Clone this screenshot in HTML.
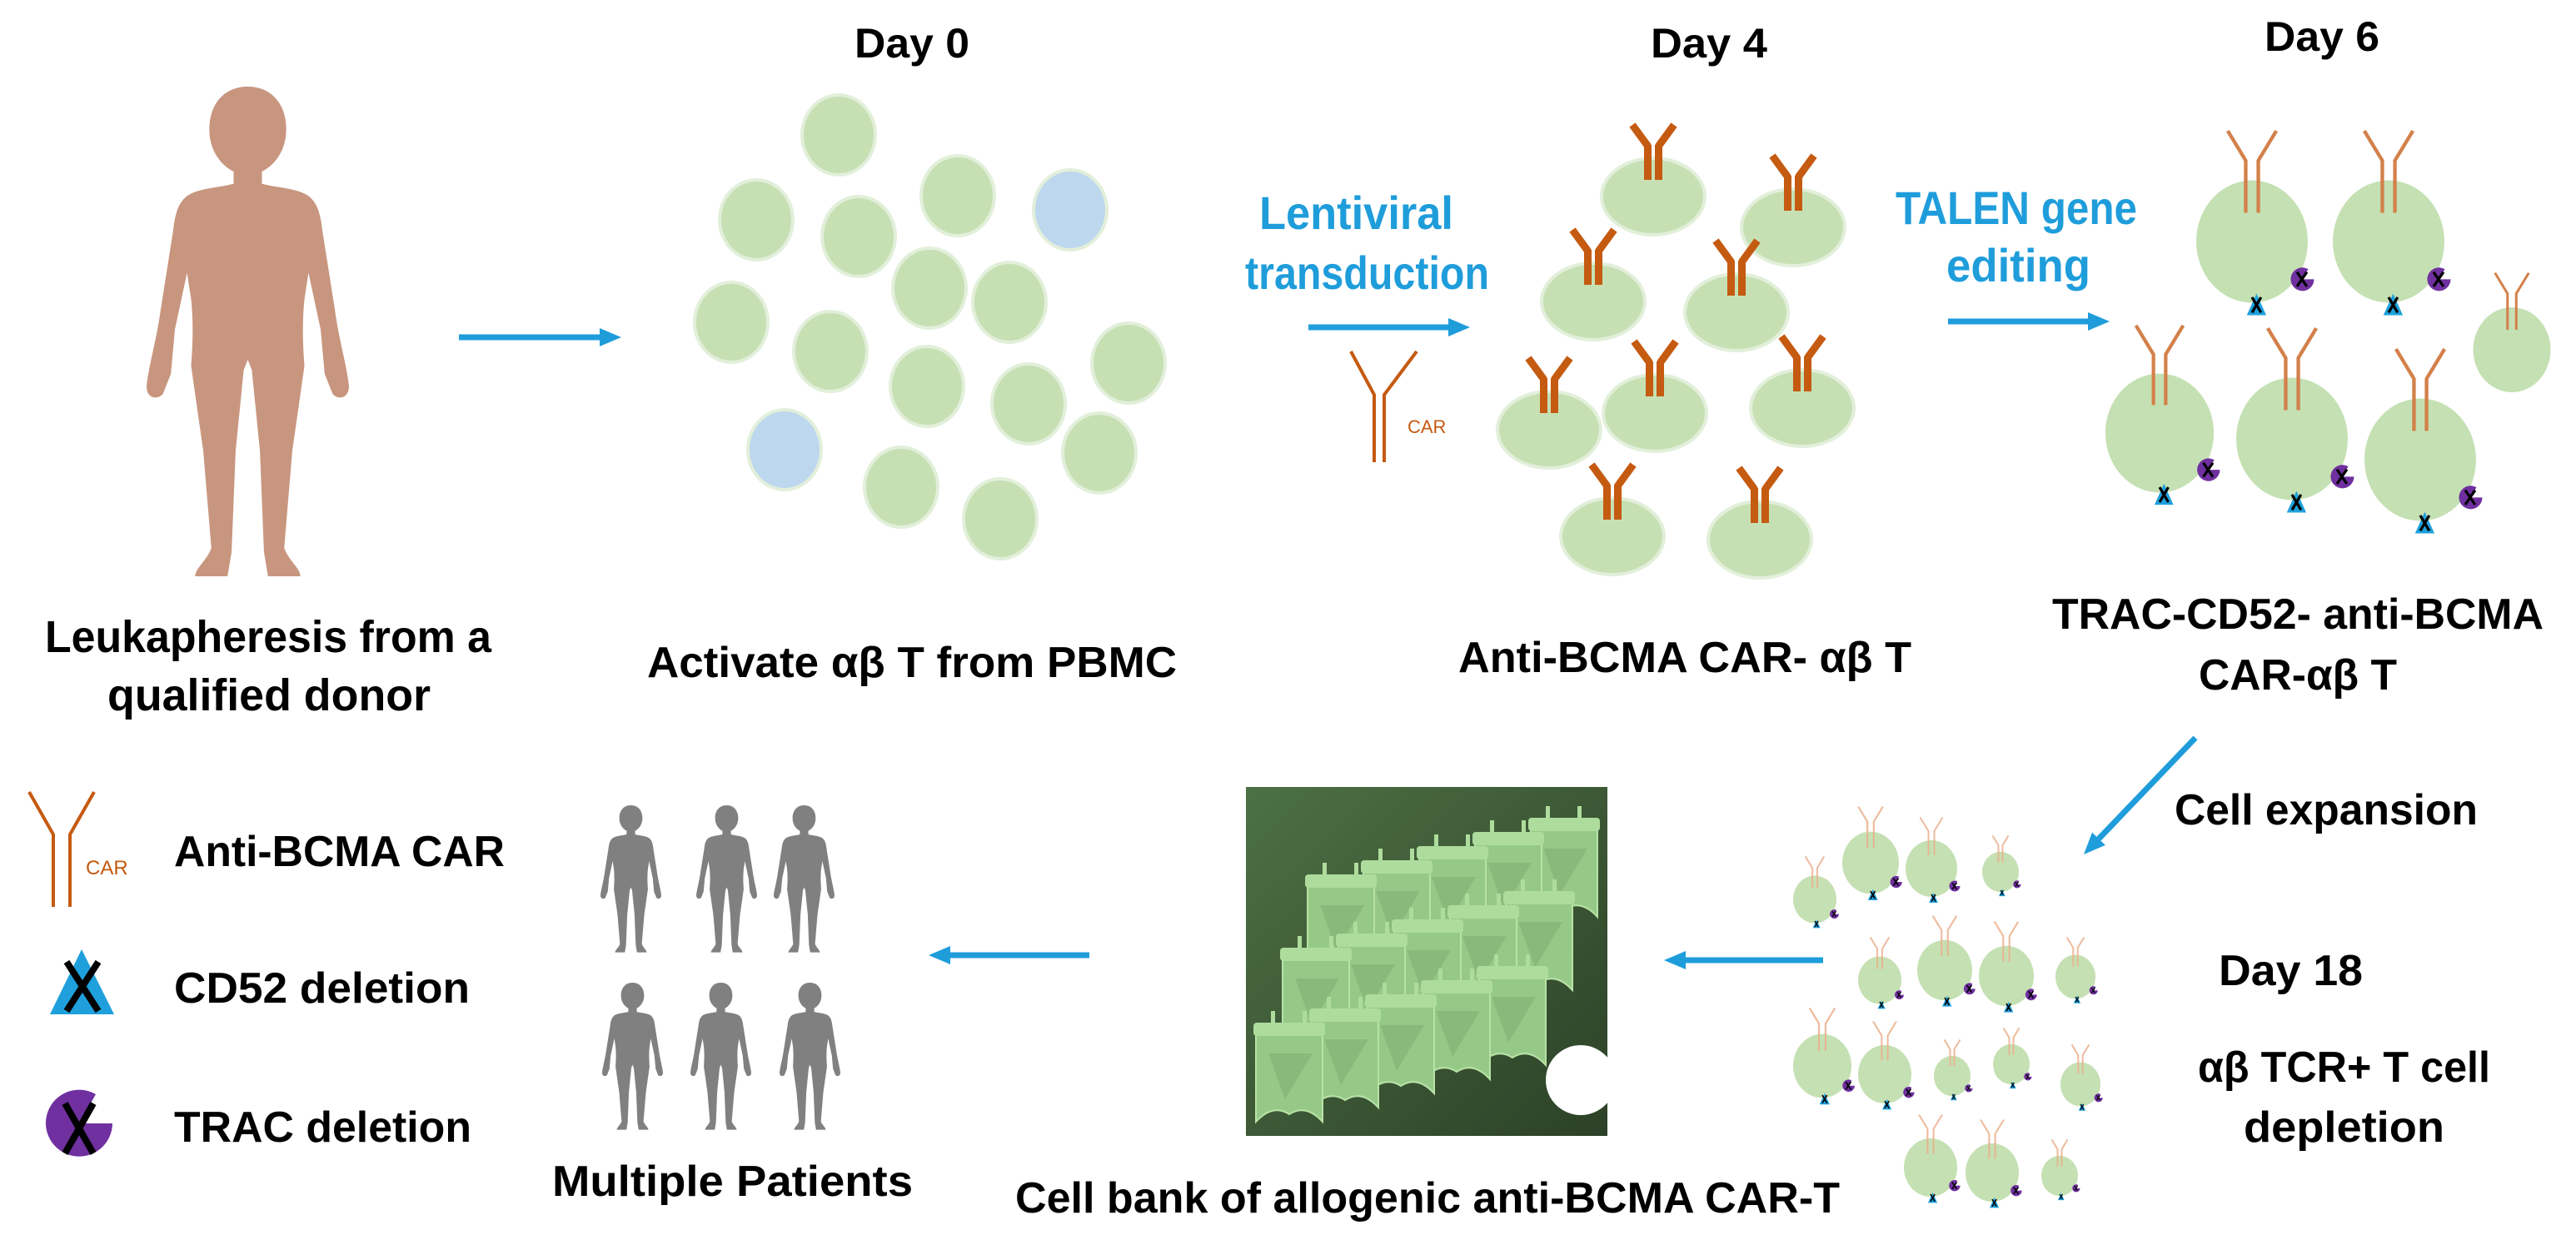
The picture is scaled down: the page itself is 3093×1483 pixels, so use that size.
<!DOCTYPE html>
<html><head><meta charset="utf-8"><style>
html,body{margin:0;padding:0;background:#fff;}
svg{display:block;}
text{font-family:"Liberation Sans",Arial,sans-serif;font-weight:bold;}
</style></head><body>
<svg id="s" width="3093" height="1483" viewBox="0 0 3093 1483" xmlns="http://www.w3.org/2000/svg">
<defs>
<path id="person" d="M50,0 C62,0 69,9 69,21 C69,32 63,39 57,42 L57,48 C64,50 74,50 80,54 C85,58 86,64 87,72 L93,110 C95,125 99,138 100,148 C100,154 95,155 92,152 L88,142 L86,120 L80,92 L78,105 C77,115 77,125 78,138 L72,180 L68,228 C70,234 76,238 76,242 L60,242 L58,230 L56,180 L52,140 L50,135 L48,140 L44,180 L42,230 L40,242 L24,242 C24,238 30,234 32,228 L28,180 L22,138 C23,125 23,115 22,105 L20,92 L14,120 L12,142 L8,152 C5,155 0,154 0,148 C1,138 5,125 7,110 L13,72 C14,64 15,58 20,54 C26,50 36,50 43,48 L43,42 C37,39 31,32 31,21 C31,9 38,0 50,0 Z"/>
<linearGradient id="bg" x1="0" y1="0" x2="1" y2="1"><stop offset="0" stop-color="#4d7045"/><stop offset="1" stop-color="#2c4127"/></linearGradient>
<clipPath id="bankclip"><rect x="1496" y="945" width="434" height="419"/></clipPath>
</defs>
<g id="shapes"></g>

<use href="#person" transform="translate(176,104) scale(2.43)" fill="#c8967f"/>
<g fill="#808080">
<use href="#person" transform="translate(721,967) scale(0.73)"/>
<use href="#person" transform="translate(836,967) scale(0.73)"/>
<use href="#person" transform="translate(929,967) scale(0.73)"/>
<use href="#person" transform="translate(723,1180) scale(0.73)"/>
<use href="#person" transform="translate(829,1180) scale(0.73)"/>
<use href="#person" transform="translate(936,1180) scale(0.73)"/>
</g>

<g stroke="#c55a11" stroke-width="4" fill="none">
<polyline points="35,951 64,1002 64,1089"/><polyline points="113,951 84,1002 84,1089"/>
<polyline points="1622,422 1650,474 1650,555"/><polyline points="1701,422 1662,474 1662,555"/>
</g>
<text x="103" y="1050" font-size="24" fill="#c55a11" style="font-weight:normal">CAR</text>
<text x="1690" y="520" font-size="22" fill="#c55a11" style="font-weight:normal">CAR</text>

<polygon points="98,1140 60,1218 137,1218" fill="#1fa0dc"/>
<g stroke="#000" stroke-width="8"><line x1="80" y1="1155" x2="118" y2="1214"/><line x1="118" y1="1155" x2="80" y2="1214"/></g>
<path d="M95,1349 L115,1314 A40,40 0 1,0 135,1349 Z" fill="#7030a0"/>
<g stroke="#000" stroke-width="8"><line x1="78" y1="1325" x2="112" y2="1385"/><line x1="112" y1="1325" x2="78" y2="1385"/></g>

<g fill="#000">
<text x="54" y="783" font-size="54" textLength="536" lengthAdjust="spacingAndGlyphs">Leukapheresis from a</text>
<text x="129" y="853" font-size="54" textLength="388" lengthAdjust="spacingAndGlyphs">qualified donor</text>
<text x="1026" y="69" font-size="50" textLength="138" lengthAdjust="spacingAndGlyphs">Day 0</text>
<text x="1982" y="69" font-size="50" textLength="140" lengthAdjust="spacingAndGlyphs">Day 4</text>
<text x="2719" y="61" font-size="50" textLength="138" lengthAdjust="spacingAndGlyphs">Day 6</text>
<text x="777" y="813" font-size="52" textLength="636" lengthAdjust="spacingAndGlyphs">Activate αβ T from PBMC</text>
<text x="1751" y="807" font-size="52" textLength="544" lengthAdjust="spacingAndGlyphs">Anti-BCMA CAR- αβ T</text>
<text x="2464" y="755" font-size="52" textLength="590" lengthAdjust="spacingAndGlyphs">TRAC-CD52- anti-BCMA</text>
<text x="2640" y="828" font-size="52" textLength="238" lengthAdjust="spacingAndGlyphs">CAR-αβ T</text>
<text x="2611" y="990" font-size="52" textLength="364" lengthAdjust="spacingAndGlyphs">Cell expansion</text>
<text x="2664" y="1183" font-size="52" textLength="173" lengthAdjust="spacingAndGlyphs">Day 18</text>
<text x="2639" y="1299" font-size="52" textLength="351" lengthAdjust="spacingAndGlyphs">αβ TCR+ T cell</text>
<text x="2694" y="1371" font-size="52" textLength="241" lengthAdjust="spacingAndGlyphs">depletion</text>
<text x="1219" y="1456" font-size="52" textLength="990" lengthAdjust="spacingAndGlyphs">Cell bank of allogenic anti-BCMA CAR-T</text>
<text x="663" y="1436" font-size="52" textLength="433" lengthAdjust="spacingAndGlyphs">Multiple Patients</text>
<text x="209" y="1040" font-size="52" textLength="397" lengthAdjust="spacingAndGlyphs">Anti-BCMA CAR</text>
<text x="209" y="1204" font-size="52" textLength="355" lengthAdjust="spacingAndGlyphs">CD52 deletion</text>
<text x="209" y="1371" font-size="52" textLength="357" lengthAdjust="spacingAndGlyphs">TRAC deletion</text>
</g>
<g fill="#1f9ddb">
<text x="1512" y="275" font-size="56" textLength="233" lengthAdjust="spacingAndGlyphs">Lentiviral</text>
<text x="1495" y="347" font-size="56" textLength="293" lengthAdjust="spacingAndGlyphs">transduction</text>
<text x="2276" y="269" font-size="56" textLength="290" lengthAdjust="spacingAndGlyphs">TALEN gene</text>
<text x="2337" y="338" font-size="56" textLength="173" lengthAdjust="spacingAndGlyphs">editing</text>
</g>
</svg>
<script>
(function(){
var g=document.getElementById('shapes');var h='';
function arrow(x1,y1,x2,y2){var dx=x2-x1,dy=y2-y1,L=Math.sqrt(dx*dx+dy*dy),ux=dx/L,uy=dy/L,hl=26,hw=11;
var bx=x2-ux*hl,by=y2-uy*hl;
h+='<line x1="'+x1+'" y1="'+y1+'" x2="'+bx+'" y2="'+by+'" stroke="#1f9ddb" stroke-width="7"/>';
h+='<polygon fill="#1f9ddb" points="'+x2+','+y2+' '+(bx-uy*hw)+','+(by+ux*hw)+' '+(bx+uy*hw)+','+(by-ux*hw)+'"/>';}
arrow(551,405,746,405);arrow(1571,393,1765,393);arrow(2339,386,2533,386);
arrow(2636,886,2502,1026);arrow(2189,1153,1998,1153);arrow(1308,1147,1115,1147);
var d0=[[1007,162],[908,264],[1031,284],[1150,235],[1285,252,1],[878,387],[1116,346],[1212,363],[997,422],[1355,436],[1113,464],[1235,485],[942,540,1],[1320,544],[1082,585],[1201,623]];
d0.forEach(function(c){h+='<ellipse cx="'+c[0]+'" cy="'+c[1]+'" rx="44" ry="48" fill="'+(c[2]?'#bdd7ee':'#c6e0b4')+'" stroke="#e2efda" stroke-width="4"/>';});
var d4=[[1985,236],[2153,273],[1913,362],[2085,375],[1860,516],[1987,496],[2164,490],[1936,644],[2113,648]];
d4.forEach(function(c){var x=c[0],y=c[1];
h+='<ellipse cx="'+x+'" cy="'+y+'" rx="62" ry="46" fill="#c6e0b4" stroke="#e2efda" stroke-width="4"/>';
h+='<rect x="'+(x-11)+'" y="'+(y-62)+'" width="9" height="42" fill="#c55a11"/><rect x="'+(x+2)+'" y="'+(y-62)+'" width="9" height="42" fill="#c55a11"/>';
h+='<line x1="'+(x-6)+'" y1="'+(y-60)+'" x2="'+(x-25)+'" y2="'+(y-86)+'" stroke="#c55a11" stroke-width="9"/>';
h+='<line x1="'+(x+6)+'" y1="'+(y-60)+'" x2="'+(x+25)+'" y2="'+(y-86)+'" stroke="#c55a11" stroke-width="9"/>';});
function cell(x,y,s,marks,ab,op){var rx=62*s,ry=68*s;
h+='<ellipse cx="'+x+'" cy="'+y+'" rx="'+rx+'" ry="'+ry+'" fill="#c5e0b3"/>';
var col=ab||'#d3804a',sw=Math.max(4*s,2),o=op||1;
h+='<g stroke="'+col+'" stroke-width="'+sw+'" fill="none" opacity="'+o+'">';
h+='<polyline points="'+(x-27*s)+','+(y-123*s)+' '+(x-7*s)+','+(y-90*s)+' '+(x-7*s)+','+(y-32*s)+'"/>';
h+='<polyline points="'+(x+27*s)+','+(y-123*s)+' '+(x+7*s)+','+(y-90*s)+' '+(x+7*s)+','+(y-32*s)+'"/></g>';
if(marks){var px=x+56*s,py=y+42*s,r=13*s;
h+='<path d="M'+px+','+py+' L'+(px+r*0.5)+','+(py-r*0.87)+' A'+r+','+r+' 0 1,0 '+(px+r)+','+py+' Z" fill="#7030a0"/>';
h+='<g stroke="#000" stroke-width="'+(3*s)+'"><line x1="'+(px-6*s)+'" y1="'+(py-8*s)+'" x2="'+(px+5*s)+'" y2="'+(py+8*s)+'"/><line x1="'+(px+5*s)+'" y1="'+(py-8*s)+'" x2="'+(px-6*s)+'" y2="'+(py+8*s)+'"/></g>';
var tx=x+5*s,ty=y+70*s,t=12*s;
h+='<polygon points="'+tx+','+(ty-t)+' '+(tx-t*0.9)+','+(ty+t)+' '+(tx+t*0.9)+','+(ty+t)+'" fill="#1fa0dc"/>';
h+='<g stroke="#000" stroke-width="'+(3*s)+'"><line x1="'+(tx-5*s)+'" y1="'+(ty-8*s)+'" x2="'+(tx+5*s)+'" y2="'+(ty+9*s)+'"/><line x1="'+(tx+5*s)+'" y1="'+(ty-8*s)+'" x2="'+(tx-5*s)+'" y2="'+(ty+9*s)+'"/></g>';}}
cell(2704,290,1.08,1);cell(2868,290,1.08,1);cell(2593,520,1.05,1);cell(2752,527,1.08,1);cell(2906,552,1.08,1);cell(3016,420,0.75,0);
var d18=[[2179,1080,26],[2246,1036,34],[2319,1043,31],[2402,1047,22],[2257,1177,26],[2335,1165,33],[2409,1172,33],[2492,1173,24],[2188,1280,35],[2263,1290,32],[2344,1292,22],[2415,1278,22],[2498,1302,24],[2318,1402,32],[2392,1408,32],[2473,1412,22]];
d18.forEach(function(c){cell(c[0],c[1],c[2]/62,1,'#eab08c',0.85);});
h+='<rect x="1496" y="945" width="434" height="419" fill="url(#bg)"/>';
h+='<g clip-path="url(#bankclip)">';
var rows=[[1570,1042],[1540,1130],[1508,1220]];
rows.forEach(function(r){for(var i=4;i>=0;i--){var bx=r[0]+i*67,by=r[1]-i*17;
h+='<path d="M'+bx+','+(by+15)+' L'+(bx+80)+','+(by+15)+' L'+(bx+80)+','+(by+127)+' Q'+(bx+60)+','+(by+105)+' '+(bx+40)+','+(by+118)+' Q'+(bx+20)+','+(by+105)+' '+bx+','+(by+127)+' Z" fill="#96c987" stroke="#b8e2a6" stroke-width="2"/>';
h+='<path d="M'+(bx+15)+','+(by+45)+' L'+(bx+68)+','+(by+45)+' L'+(bx+35)+','+(by+100)+' Z" fill="#80b073" opacity="0.6"/>';
h+='<rect x="'+(bx-3)+'" y="'+(by+8)+'" width="86" height="16" rx="4" fill="#aedc9c"/>';
h+='<rect x="'+(bx+18)+'" y="'+(by-6)+'" width="5" height="16" fill="#aedc9c"/><rect x="'+(bx+56)+'" y="'+(by-6)+'" width="5" height="16" fill="#aedc9c"/>';}});
h+='</g>';
h+='<circle cx="1898" cy="1297" r="42" fill="#fff"/>';
g.innerHTML=h;
})();
</script>
</body></html>
